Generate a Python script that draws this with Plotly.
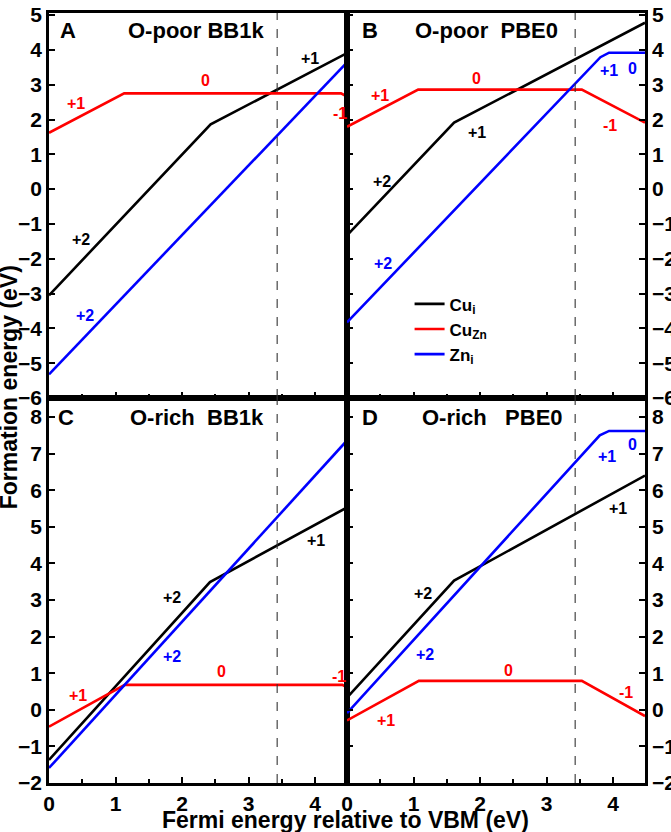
import plotly.graph_objects as go
from plotly.subplots import make_subplots

# Fermi level range and band gap (dashed line)
fermi_max = 4.48
band_gap = 3.43

# A: O-poor BB1k
a_cui_x = [0, 2.43, fermi_max]
a_cui_y = [-3.05, 1.86, 3.91]
a_cuzn_x = [0, 1.13, 4.39, fermi_max]
a_cuzn_y = [1.62, 2.75, 2.75, 2.66]
a_zni_x = [0, fermi_max]
a_zni_y = [-5.32, 3.64]

# B: O-poor PBE0
b_cui_x = [0, 1.61, fermi_max]
b_cui_y = [-1.33, 1.91, 4.78]
b_cuzn_x = [0, 1.07, 3.53, fermi_max]
b_cuzn_y = [1.79, 2.86, 2.86, 1.91]
b_zni_x = [0, 3.81, 3.94, fermi_max]
b_zni_y = [-3.83, 3.79, 3.92, 3.92]

# C: O-rich BB1k
c_cui_x = [0, 2.42, fermi_max]
c_cui_y = [-1.37, 3.49, 5.53]
c_cuzn_x = [0, 1.14, 4.41, fermi_max]
c_cuzn_y = [-0.46, 0.68, 0.68, 0.61]
c_zni_x = [0, fermi_max]
c_zni_y = [-1.59, 7.36]

# D: O-rich PBE0
d_cui_x = [0, 1.61, fermi_max]
d_cui_y = [0.33, 3.53, 6.40]
d_cuzn_x = [0, 1.08, 3.53, fermi_max]
d_cuzn_y = [-0.29, 0.79, 0.79, -0.17]
d_zni_x = [0, 3.80, 3.94, fermi_max]
d_zni_y = [-0.09, 7.50, 7.62, 7.62]

names = ["Cu<sub>i</sub>", "Cu<sub>Zn</sub>", "Zn<sub>i</sub>"]
colors = ["black", "#ff0000", "#0000ff"]

panels = [
    (1, 1, [(a_cui_x, a_cui_y), (a_cuzn_x, a_cuzn_y), (a_zni_x, a_zni_y)]),
    (1, 2, [(b_cui_x, b_cui_y), (b_cuzn_x, b_cuzn_y), (b_zni_x, b_zni_y)]),
    (2, 1, [(c_cui_x, c_cui_y), (c_cuzn_x, c_cuzn_y), (c_zni_x, c_zni_y)]),
    (2, 2, [(d_cui_x, d_cui_y), (d_cuzn_x, d_cuzn_y), (d_zni_x, d_zni_y)]),
]

# charge state labels: (text, x, y, color index)
charge_labels = {
    (1, 1): [("+1", 3.93, 3.76, 0), ("+2", 0.48, -1.45, 0), ("0", 2.36, 3.13, 1),
             ("+1", 0.40, 2.47, 1), ("-1", 4.38, 2.18, 1), ("+2", 0.54, -3.64, 2)],
    (1, 2): [("+1", 1.95, 1.64, 0), ("+2", 0.53, 0.23, 0), ("0", 1.95, 3.18, 1),
             ("+1", 0.49, 2.70, 1), ("-1", 3.96, 1.83, 1), ("+2", 0.54, -2.15, 2),
             ("+1", 3.94, 3.40, 2), ("0", 4.29, 3.47, 2)],
    (2, 1): [("+1", 4.01, 4.62, 0), ("+2", 1.85, 3.06, 0), ("0", 2.60, 1.04, 1),
             ("+1", 0.44, 0.38, 1), ("-1", 4.36, 0.90, 1), ("+2", 1.85, 1.47, 2)],
    (2, 2): [("+1", 4.07, 5.51, 0), ("+2", 1.14, 3.19, 0), ("0", 2.43, 1.08, 1),
             ("+1", 0.58, -0.28, 1), ("-1", 4.19, 0.47, 1), ("+2", 1.17, 1.52, 2),
             ("+1", 3.91, 6.91, 2), ("0", 4.29, 7.26, 2)],
}

panel_titles = {
    (1, 1): ("A", 0.28, "O-poor BB1k", 2.21, 4.57),
    (1, 2): ("B", 0.34, "O-poor\u00a0\u00a0PBE0", 2.10, 4.57),
    (2, 1): ("C", 0.26, "O-rich\u00a0\u00a0BB1k", 2.22, 8.0),
    (2, 2): ("D", 0.34, "O-rich\u00a0\u00a0\u00a0PBE0", 2.18, 8.0),
}

FONT = "Liberation Sans, Arial, sans-serif"

fig = make_subplots(rows=2, cols=2, horizontal_spacing=0, vertical_spacing=0)

for row, col, series in panels:
    for i, (xs, ys) in enumerate(series):
        fig.add_trace(go.Scatter(
            x=xs, y=ys, mode="lines", name=names[i],
            line=dict(color=colors[i], width=2.6),
            showlegend=(row == 1 and col == 2),
        ), row=row, col=col)
    fig.add_vline(x=band_gap, line=dict(color="#333333", width=1.1, dash="dash"),
                  row=row, col=col)
    for text, x, y, ci in charge_labels[(row, col)]:
        fig.add_annotation(x=x, y=y, text=text, showarrow=False,
                           font=dict(color=colors[ci], size=16, family=FONT, weight="bold"),
                           row=row, col=col)
    letter, lx, title, tx, ty = panel_titles[(row, col)]
    fig.add_annotation(x=lx, y=ty, text=letter, showarrow=False,
                       font=dict(color="black", size=22, family=FONT, weight="bold"),
                       row=row, col=col)
    fig.add_annotation(x=tx, y=ty, text=title, showarrow=False,
                       font=dict(color="black", size=22, family=FONT, weight="bold"),
                       row=row, col=col)

tickfont = dict(size=21, family=FONT, color="black", weight="bold")

for row in (1, 2):
    for col in (1, 2):
        fig.update_xaxes(
            range=[0, fermi_max], dtick=1, tick0=0, ticks="inside", ticklen=6,
            tickwidth=2, tickcolor="black",
            minor=dict(dtick=0.5, ticks="inside", ticklen=4, tickwidth=2, tickcolor="black"),
            showline=True, linewidth=2.5, linecolor="black", mirror=True,
            showgrid=False, zeroline=False, tickfont=tickfont, automargin=False,
            ticklabelstandoff=0,
            showticklabels=(row == 2), row=row, col=col)
        fig.update_yaxes(
            range=[-6, 5.06] if row == 1 else [-2, 8.52], dtick=1, tick0=0,
            ticks="inside", ticklen=6, tickwidth=2, tickcolor="black",
            showline=True, linewidth=2.5, linecolor="black",
            mirror=("allticks" if col == 2 else True),
            side=("right" if col == 2 else "left"),
            showgrid=False, zeroline=False, tickfont=tickfont, automargin=False,
            ticklabeloverflow="allow",
            row=row, col=col)

fig.add_annotation(xref="paper", yref="paper", x=-0.067, y=0.514,
                   xanchor="center", yanchor="middle",
                   text="Formation energy (eV)", textangle=-90, showarrow=False,
                   font=dict(size=23, family=FONT, color="black", weight="bold"))
fig.add_annotation(xref="paper", yref="paper", x=0.497, y=-0.048,
                   xanchor="center", yanchor="middle",
                   text="Fermi energy relative to VBM (eV)", showarrow=False,
                   font=dict(size=23, family=FONT, color="black", weight="bold"))

fig.update_layout(
    width=671, height=832,
    margin=dict(l=49, r=26, t=13, b=49),
    plot_bgcolor="white", paper_bgcolor="white",
    font=dict(family=FONT, color="black", weight="bold"),
    legend=dict(x=0.605, y=0.645, xanchor="left", yanchor="top",
                bgcolor="rgba(0,0,0,0)", tracegroupgap=0,
                font=dict(size=17, family=FONT, color="black", weight="bold")),
)

# drop the default 8px page margin so the figure sits at the window corner
fig.write_html("out.html", config={"displayModeBar": False},
               post_script="document.body.style.margin = '0';")
